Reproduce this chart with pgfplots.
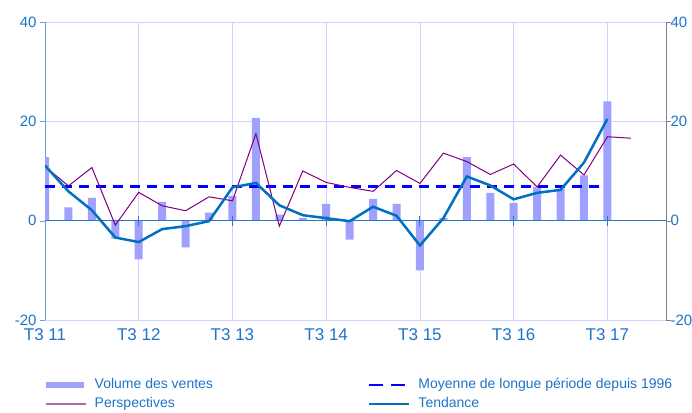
\documentclass[border=0pt]{standalone}
\usepackage{pgfplots}
\pgfplotsset{compat=1.18}
\usepackage{fontspec}
\setmainfont{Liberation Sans}

\definecolor{txtblue}{RGB}{31,115,200}
\definecolor{barcol}{RGB}{160,160,255}
\definecolor{gridcol}{RGB}{210,210,255}
\definecolor{trendcol}{RGB}{0,112,192}
\definecolor{perscol}{RGB}{128,0,128}
\definecolor{zerocol}{RGB}{40,120,200}

\begin{document}
\begin{tikzpicture}
\useasboundingbox (0pt,0pt) rectangle (692pt,412pt);
\begin{axis}[
    at={(45pt,92pt)}, anchor=south west,
    scale only axis, width=621pt, height=298pt,
    xmin=0, xmax=26.5, ymin=-20, ymax=40,
    separate axis lines,
    axis y line*=left,
    x axis line style={draw=gridcol},
    y axis line style={draw=zerocol!70},
    xtick={0,4,8,12,16,20,24},
    xticklabels={T3 11,T3 12,T3 13,T3 14,T3 15,T3 16,T3 17},
    x tick style={draw=none},
    xticklabel style={font=\fontsize{17}{17}\selectfont, text=txtblue},
    ytick={-20,0,20,40},
    y tick style={draw=zerocol!70},
    tick align=outside, major tick length=5pt,
    yticklabel style={font=\fontsize{15}{15}\selectfont, text=txtblue},
    /pgf/number format/assume math mode=true,
    xmajorgrids, ymajorgrids,
    grid style={draw=gridcol, line width=0.7pt},
    legend columns=2,
    legend cell align=left,
    legend style={draw=none, fill=none, inner sep=0pt,
        at={(axis description cs:0,-0.19)}, anchor=north west,
        font=\fontsize{14}{16}\selectfont, text=txtblue,
        nodes={inner xsep=0pt, inner ysep=1pt, text height=11pt, text depth=3pt},
        row sep=3pt,
        /tikz/every odd column/.append style={column sep=8pt},
        /tikz/every even column/.append style={column sep=155pt}},
]
\addplot[ybar, bar width=8pt, fill=barcol, draw=none,
    legend image code/.code={\fill[barcol] (0pt,-3pt) rectangle (38pt,3pt);}]
coordinates {
(0,12.8) (1,2.7) (2,4.6) (3,-3.6) (4,-7.8) (5,3.8) (6,-5.4) (7,1.6) (8,5.0)
(9,20.7) (10,1.2) (11,0.5) (12,3.4) (13,-3.8) (14,4.4) (15,3.4) (16,-10.0)
(17,0.5) (18,12.8) (19,5.6) (20,3.6) (21,6.8) (22,6.4) (23,9.1) (24,24.0)
};
\addlegendentry{Volume des ventes}

\addplot[blue, line width=2.5pt, dash pattern=on 10pt off 7pt,
    legend image code/.code={\draw[blue, line width=2.5pt, dash pattern=on 14pt off 8pt] (0pt,0pt) -- (40pt,0pt);}]
coordinates {(0,6.85) (23.8,6.85)};
\addlegendentry{Moyenne de longue période depuis 1996}

% zero line with small year ticks
\draw[zerocol, line width=1pt] (axis cs:0,0) -- (axis cs:26.5,0);
\draw[zerocol, line width=1pt] (axis cs:4,-1) -- (axis cs:4,1);
\draw[zerocol, line width=1pt] (axis cs:8,-1) -- (axis cs:8,1);
\draw[zerocol, line width=1pt] (axis cs:12,-1) -- (axis cs:12,1);
\draw[zerocol, line width=1pt] (axis cs:16,-1) -- (axis cs:16,1);
\draw[zerocol, line width=1pt] (axis cs:20,-1) -- (axis cs:20,1);
\draw[zerocol, line width=1pt] (axis cs:24,-1) -- (axis cs:24,1);

\addplot[perscol, line width=1pt,
    legend image code/.code={\draw[perscol!60, line width=1.5pt] (0pt,0pt) -- (40pt,0pt);}]
coordinates {
(0,10.9) (1,7.0) (2,10.7) (3,-0.9) (4,5.7) (5,3.0) (6,2.0) (7,4.8) (8,4.0)
(9,17.5) (10,-1.1) (11,10.0) (12,7.7) (13,6.7) (14,5.9) (15,10.1) (16,7.5)
(17,13.6) (18,11.9) (19,9.3) (20,11.4) (21,6.8) (22,13.2) (23,9.2) (24,16.9)
(25,16.6)
};
\addlegendentry{Perspectives}

\addplot[trendcol, line width=2.5pt,
    legend image code/.code={\draw[trendcol, line width=2.5pt] (0pt,0pt) -- (40pt,0pt);}]
coordinates {
(0,11.1) (1,5.9) (2,2.1) (3,-3.4) (4,-4.3) (5,-1.7) (6,-1.1) (7,-0.1) (8,6.7)
(9,7.6) (10,3.1) (11,1.1) (12,0.5) (13,-0.1) (14,2.8) (15,1.0) (16,-5.0)
(17,0.5) (18,8.9) (19,7.1) (20,4.3) (21,5.6) (22,6.2) (23,11.7) (24,20.5)
};
\addlegendentry{Tendance}
\end{axis}

\begin{axis}[
    at={(45pt,92pt)}, anchor=south west,
    scale only axis, width=621pt, height=298pt,
    xmin=0, xmax=26.5, ymin=-20, ymax=40,
    axis x line=none, axis y line*=right,
    y axis line style={draw=gray},
    ytick={-20,0,20,40},
    y tick style={draw=gray},
    tick align=outside, major tick length=5pt,
    yticklabel style={font=\fontsize{15}{15}\selectfont, text=txtblue, xshift=-4pt},
    /pgf/number format/assume math mode=true,
]
\addplot[draw=none] coordinates {(0,0)};
\end{axis}
\end{tikzpicture}
\end{document}
